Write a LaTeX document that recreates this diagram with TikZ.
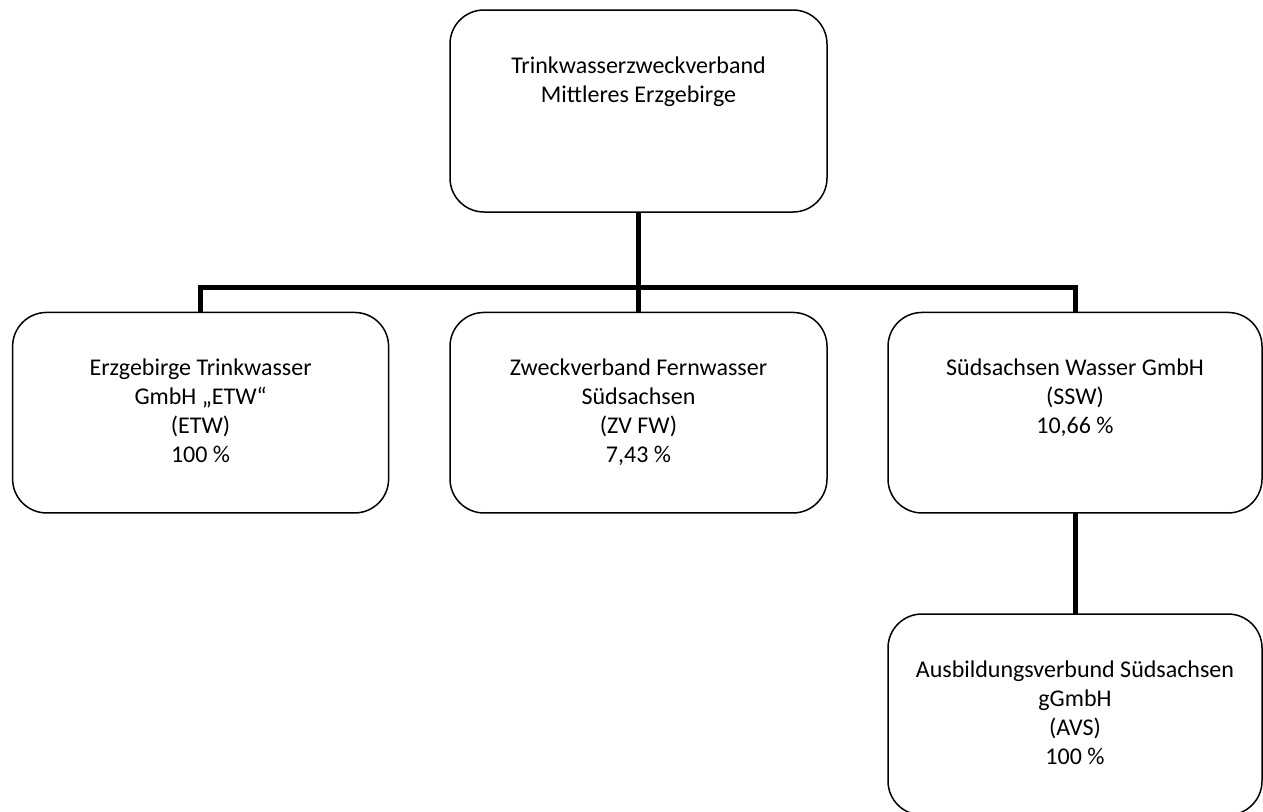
\documentclass[tikz,border=0pt]{standalone}
\usepackage{fontspec}
\setmainfont{Carlito}
\newcommand{\orgtext}[3]{\parbox[c][#2pt][t]{#1pt}{\centering\fontsize{24}{29}\selectfont\vspace*{42.7pt}\strut #3\par}}
\tikzset{
  orgbox/.style={draw=black, line width=1.5pt, rounded corners=34pt, inner sep=0pt, outer sep=0pt, fill=white},
  conn/.style={draw=black, line width=5pt, line cap=butt, line join=miter}
}
\begin{document}
\begin{tikzpicture}[x=1pt, y=-1pt]
\useasboundingbox (0,0) rectangle (1263,811);
\node[orgbox] (A) at (638.5,111) {\orgtext{377}{202}{Trinkwasserzweckverband\\Mittleres Erzgebirge}};
\node[orgbox] (B) at (200.6,412.7) {\orgtext{376}{200.5}{Erzgebirge Trinkwasser\\GmbH „ETW“\\(ETW)\\100 \%}};
\node[orgbox] (C) at (638.5,412.7) {\orgtext{377}{200.5}{Zweckverband Fernwasser\\Südsachsen\\(ZV FW)\\7,43 \%}};
\node[orgbox] (D) at (1075,412.7) {\orgtext{374}{200.5}{Südsachsen Wasser GmbH\\(SSW)\\10,66 \%}};
\node[orgbox] (E) at (1075,714.5) {\orgtext{374}{201}{Ausbildungsverbund Südsachsen\\gGmbH\\(AVS)\\100 \%}};
\coordinate (bus) at (0,287);
\draw[conn] (A.south) -- (C.north);
\draw[conn] (B.north) -- (B.north |- bus) -- (D.north |- bus) -- (D.north);
\draw[conn] (D.south) -- (E.north);
\end{tikzpicture}
\end{document}
